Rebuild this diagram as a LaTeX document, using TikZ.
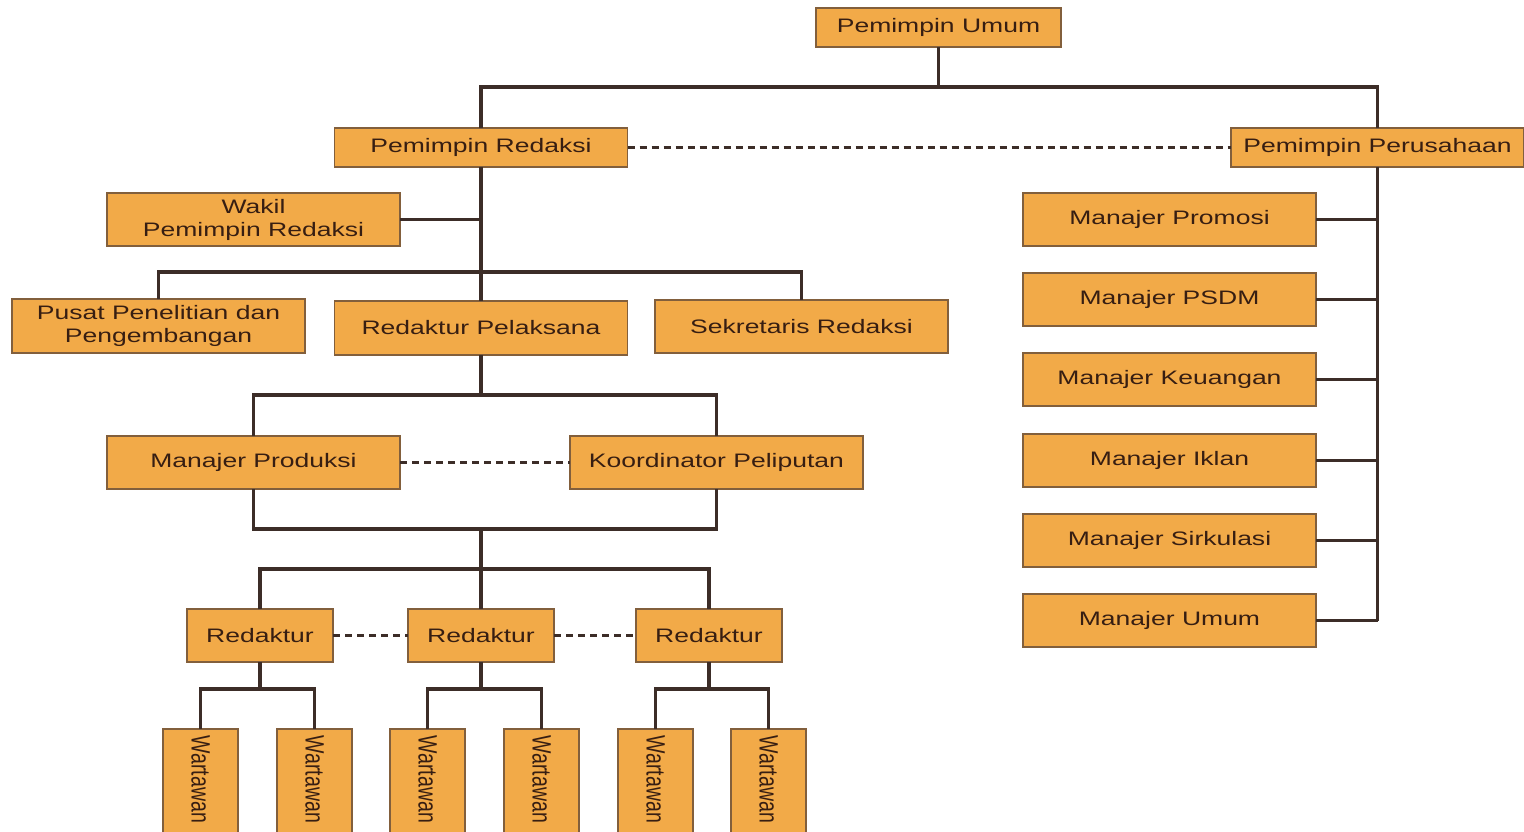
\documentclass[tikz,border=0pt]{standalone}
\usepackage{fontspec}
\setmainfont{Liberation Sans}[FakeStretch=1.36]
\newfontfamily\plainsans{Liberation Sans}
\usepackage{graphicx}
\definecolor{boxc}{RGB}{242,170,72}
\definecolor{bordc}{RGB}{130,95,60}
\definecolor{txtc}{RGB}{55,30,18}
\definecolor{linec}{RGB}{60,45,40}
\tikzset{
  box/.style={draw=bordc, fill=boxc, line width=1.3pt, text=txtc, inner sep=0pt, outer sep=0pt, align=center,
    font=\fontsize{19.5}{23}\selectfont},
  wide/.style={box, minimum width=293pt, minimum height=53pt},
  small/.style={box, minimum width=146pt, minimum height=53pt},
  wart/.style={box, minimum width=75pt, minimum height=121pt},
  conn/.style={draw=linec, line width=3.6pt},
  dashconn/.style={draw=linec, line width=2.4pt, dash pattern=on 7pt off 5pt}
}
\begin{document}
\begin{tikzpicture}[x=1pt,y=-1pt]
\fill[white] (0,0) rectangle (1524,832);
\useasboundingbox (0,0) rectangle (1524,832);
\begin{scope}
\clip (0,0) rectangle (1524,832);
% nodes
\node[box, minimum width=245pt, minimum height=39pt] (pu) at (938.5,27.5) {Pemimpin Umum};
\node[wide, minimum height=39pt] (pr) at (481,147.5) {Pemimpin Redaksi};
\node[wide, minimum height=39pt] (pp) at (1377.5,147.5) {Pemimpin Perusahaan};
\node[wide] (wk) at (253.5,219.5) {Wakil\\Pemimpin Redaksi};
\node[wide, minimum height=54pt] (pus) at (158.5,326) {Pusat Penelitian dan\\Pengembangan};
\node[wide, minimum height=54pt] (rp) at (481,328) {Redaktur Pelaksana};
\node[wide] (sr) at (801.5,326.5) {Sekretaris Redaksi};
\node[wide] (mp) at (253.5,462.5) {Manajer Produksi};
\node[wide] (kp) at (716.5,462.5) {Koordinator Peliputan};
\node[small] (r1) at (260,635.5) {Redaktur};
\node[small] (r2) at (481,635.5) {Redaktur};
\node[small] (r3) at (709,635.5) {Redaktur};
\foreach \n/\x in {w1/200.5, w2/314.5, w3/427.5, w4/541.5, w5/655.5, w6/768.5}{
  \node[wart] (\n) at (\x,789.5) {};
  \node[text=txtc, inner sep=0pt, font=\plainsans\fontsize{19.5}{23}\selectfont] (\n t) at (\x,779.5) {\scalebox{1.36}[1]{\rotatebox{-90}{Wartawan}}};
}
\node[wide] (m1) at (1169.5,219.5) {Manajer Promosi};
\node[wide] (m2) at (1169.5,299.5) {Manajer PSDM};
\node[wide] (m3) at (1169.5,379.5) {Manajer Keuangan};
\node[wide] (m4) at (1169.5,460.5) {Manajer Iklan};
\node[wide] (m5) at (1169.5,540.5) {Manajer Sirkulasi};
\node[wide] (m6) at (1169.5,620.5) {Manajer Umum};
% connectors
\coordinate (top) at (938.5,87);
\draw[conn] (pu.south) -- (top);
\draw[conn] (pr.north) |- (top) -| (pp.north);
\draw[dashconn] (pr.east) -- (pp.west);
\draw[conn] (pr.south) -- (rp.north);
\draw[conn] (wk.east) -- (wk.east -| pr.south);
\coordinate (h2) at (481,272);
\draw[conn] (pus.north) |- (h2) -| (sr.north);
\coordinate (h3) at (481,395);
\draw[conn] (rp.south) -- (h3);
\draw[conn] (mp.north) |- (h3) -| (kp.north);
\draw[dashconn] (mp.east) -- (kp.west);
\coordinate (h4) at (481,529);
\draw[conn] (mp.south) |- (h4) -| (kp.south);
\coordinate (h5) at (481,569);
\draw[conn] (h4) -- (h5);
\draw[conn] (r1.north) |- (h5) -| (r3.north);
\draw[conn] (h5) -- (r2.north);
\draw[dashconn] (r1.east) -- (r2.west);
\draw[dashconn] (r2.east) -- (r3.west);
\coordinate (c1) at (260,689);
\coordinate (c2) at (481,689);
\coordinate (c3) at (709,689);
\draw[conn] (r1.south) -- (c1);
\draw[conn] (w1.north) |- (c1) -| (w2.north);
\draw[conn] (r2.south) -- (c2);
\draw[conn] (w3.north) |- (c2) -| (w4.north);
\draw[conn] (r3.south) -- (c3);
\draw[conn] (w5.north) |- (c3) -| (w6.north);
\coordinate (rend) at (1377.5,620.5);
\draw[conn] (pp.south) -- (rend);
\foreach \m in {m1,m2,m3,m4,m5,m6}{
  \draw[conn] (\m.east) -- (\m.east -| pp.south);
}
\end{scope}
\end{tikzpicture}
\end{document}
